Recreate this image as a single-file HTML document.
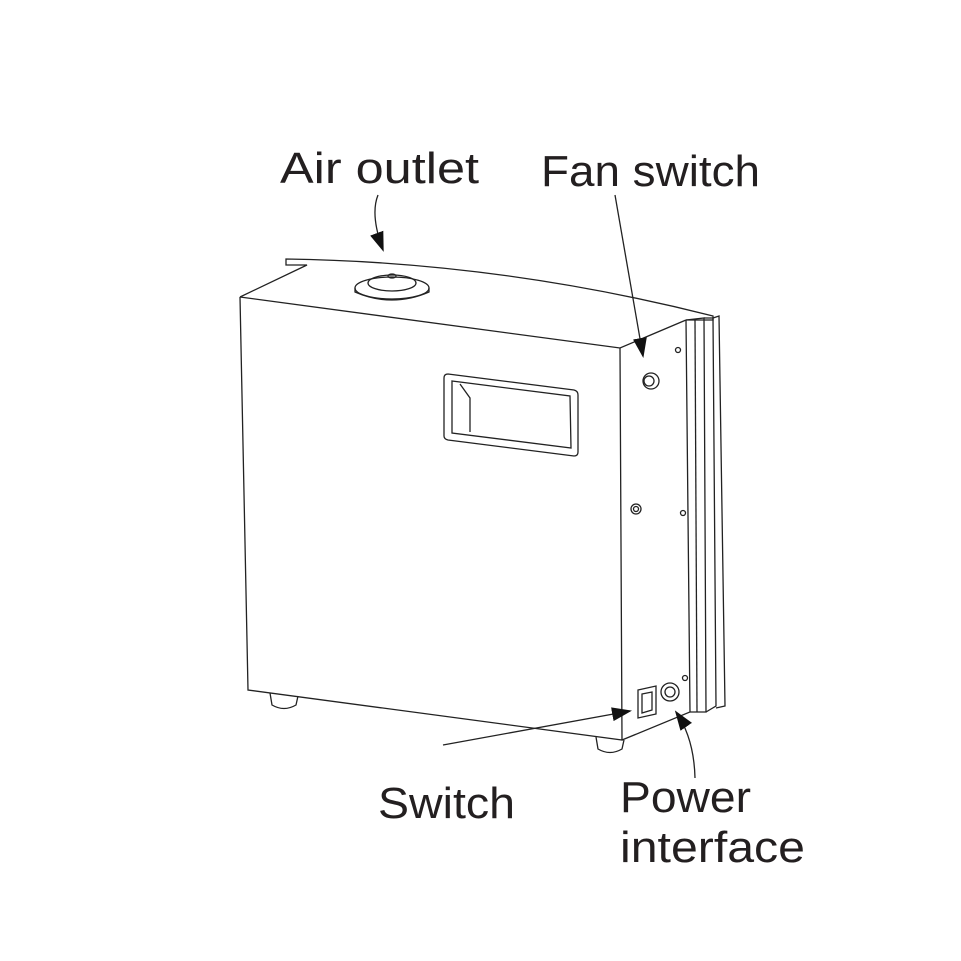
<!DOCTYPE html>
<html><head><style>
body{margin:0;background:#fff}
svg{display:block}
text{font-family:"Liberation Sans",sans-serif;font-size:44px;fill:#231f20}
</style></head><body>
<svg width="961" height="961" viewBox="0 0 961 961" xmlns="http://www.w3.org/2000/svg">
<defs><marker id="b" markerWidth="20" markerHeight="14" refX="18" refY="7" orient="auto" markerUnits="userSpaceOnUse"><path d="M0,0 L20,7 L0,14z" fill="#111"/></marker></defs>
<g fill="none" stroke="#222" stroke-width="1.3">
<path d="M240,297 L307,265 L286,265 L286,259 Q500,262 713,316 L713,320 L686,320"/>
<path d="M240,297 L620,348 L686,320"/>
<path d="M240,297 L248,690 L622,740 L620,348"/>
<path d="M622,740 L690,712 L686,320"/>
<path d="M686,320 L704,318 L706,712 L690,712"/>
<path d="M695,320 L697,712"/>
<path d="M704,318 L713,318 L716,706 L706,712 M713,318 L719,316 L725,706 L716,708"/>
<path d="M448,374 L574,390 Q578,391 578,395 L578,452 Q578,456 574,456 L448,440 Q444,439 444,436 L444,378 Q444,374 448,374z"/>
<path d="M452,381 L570,396 L571,448 L452,433z"/>
<path d="M460,384 L470,398 L470,432"/>
<ellipse cx="392" cy="288" rx="37" ry="11"/>
<path d="M355,288 L355,292 Q392,308 429,292 L429,288"/>
<ellipse cx="392" cy="283" rx="24" ry="8"/>
<ellipse cx="392" cy="276" rx="4" ry="2"/>
<circle cx="651" cy="381" r="8"/><circle cx="649" cy="381" r="5"/>
<circle cx="678" cy="350" r="2.5"/>
<circle cx="636" cy="509" r="5"/><circle cx="636" cy="509" r="2.5"/>
<circle cx="683" cy="513" r="2.5"/>
<circle cx="685" cy="678" r="2.5"/>
<path d="M638,690 L656,686 L656,714 L638,718z"/><path d="M642,694 L652,692 L652,710 L642,713z"/>
<circle cx="670" cy="692" r="9"/><circle cx="670" cy="692" r="5"/>
<path d="M270,693 L272,705 Q284,712 296,705 L298,696"/>
<path d="M596,737 L598,749 Q610,756 622,749 L624,740"/>
<path d="M378,195 Q370,215 383,250" marker-end="url(#b)"/>
<path d="M615,195 L643,356" marker-end="url(#b)"/>
<path d="M443,745 L630,711" marker-end="url(#b)"/>
<path d="M695,778 Q694,738 676,712" marker-end="url(#b)"/>
</g>
<text x="280" y="183" textLength="199" lengthAdjust="spacingAndGlyphs">Air outlet</text>
<text x="541" y="186" textLength="219" lengthAdjust="spacingAndGlyphs">Fan switch</text>
<text x="378" y="818" textLength="137" lengthAdjust="spacingAndGlyphs">Switch</text>
<text x="620" y="812" textLength="131" lengthAdjust="spacingAndGlyphs">Power</text>
<text x="620" y="862" textLength="185" lengthAdjust="spacingAndGlyphs">interface</text>
</svg>
</body></html>
